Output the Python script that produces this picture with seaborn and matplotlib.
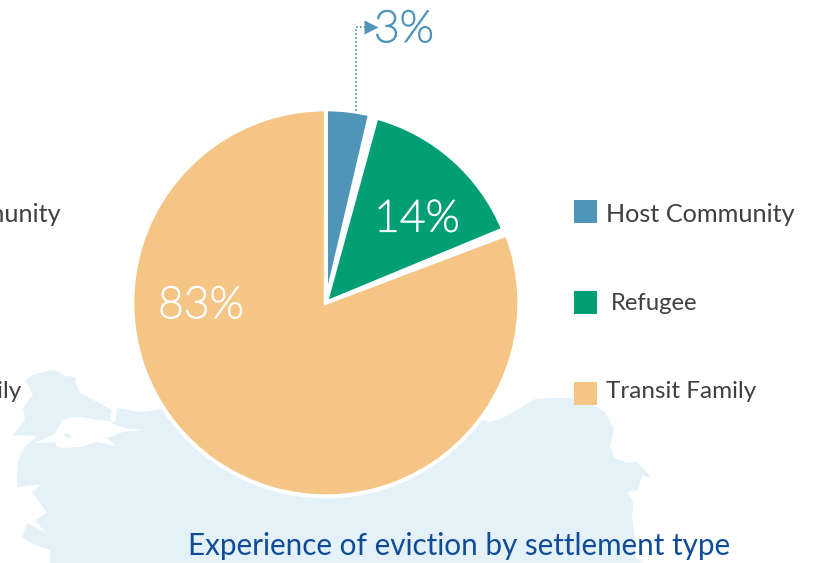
import matplotlib
matplotlib.use("Agg")
import matplotlib.pyplot as plt
import matplotlib.patheffects as pe
from matplotlib import font_manager as fm
from matplotlib.patches import Polygon, Rectangle
import seaborn as sns

categories = ["Host Community", "Refugee", "Transit Family"]
wedge_shares = [0.0367, 0.145, 0.8075]
printed_labels = ["3%", "14%", "83%"]
colors = ["#4E95B8", "#029E76", "#F4C585"]
title = "Experience of eviction by settlement type"

sns.set_theme(style="white")
plt.rcParams["font.family"] = ["Lato", "DejaVu Sans"]
palette = sns.color_palette(colors)

# a light cut of Lato for the big percentages, if it is installed
light = [f.fname for f in fm.fontManager.ttflist
         if f.name == "Lato" and "Light" in f.fname and "Italic" not in f.fname and "Hairline" not in f.fname]
big = fm.FontProperties(fname=light[0], size=32) if light else fm.FontProperties(family="Lato", size=31)

W, H = 814, 563
fig = plt.figure(figsize=(W / 100, H / 100), dpi=100, facecolor="white")
ax = fig.add_axes([0, 0, 1, 1])

def y(p):
    return H - p

# decorative background map
map_outline = [(25,380),(33,375),(50,370),(58,371),(65,376),(76,377),(75,382),(80,393),(97,402),
    (112,410),(110,420),(115,422),(117,408),(140,412),(157,410),(162,409),(300,470),(483,420),
    (490,422),(503,418),(518,409),(535,399),(550,398),(570,398),(593,405),(605,412),(614,428),
    (610,447),(615,458),(627,463),(637,462),(645,470),(651,478),(642,475),(638,490),(627,492),
    (633,502),(632,517),(635,537),(635,557),(643,563),(50,563),(50,550),(35,545),(22,537),
    (27,523),(45,532),(35,520),(47,513),(38,500),(32,492),(42,484),(17,487),(18,460),(25,447),
    (37,436),(13,435),(25,420),(23,408),(33,395)]
sea = [(35,443),(55,434),(62,420),(70,418),(83,417),(97,420),(110,421),(115,425),(125,428),(143,430),
    (123,432),(107,438),(117,446),(97,442),(80,447),(63,448),(57,447),(55,442)]
island = [(63,435),(68,433),(72,436),(68,439)]
ax.add_patch(Polygon([(a, y(b)) for a, b in map_outline], closed=True, fc="#E5F1F8", ec="none", zorder=1))
ax.add_patch(Polygon([(a, y(b)) for a, b in sea], closed=True, fc="white", ec="none", zorder=1.1))
ax.add_patch(Polygon([(a, y(b)) for a, b in island], closed=True, fc="#E5F1F8", ec="none", zorder=1.2))

# pie: the slices are drawn with small white gaps between them, as in the reference
R = 193.5
wedges, _ = ax.pie(wedge_shares, colors=palette, startangle=90, counterclock=False, normalize=False,
                   center=(325.8, y(302.8)), radius=R, frame=True,
                   wedgeprops=dict(edgecolor="white", linewidth=2.9))
for w, rot in zip(wedges, [0, 2.1, 3.9]):
    w.set_theta1(w.theta1 - rot)
    w.set_theta2(w.theta2 - rot)
    w.set_zorder(3)
wedges[1].set_radius(R - 1.5)

ax.set_xlim(0, W)
ax.set_ylim(0, H)
ax.set_aspect("equal")
ax.axis("off")

# leader for the small slice
ax.plot([356, 356, 366], [y(111), y(27), y(27)], ls=(0, (1, 1.4)), lw=1.2, color=colors[0], zorder=4)
ax.plot([370.5], [y(27)], marker=">", ms=10, color=colors[0], mec="none", zorder=4)

# slice labels
for (px, py), lab, col in zip([(404, 30.5), (417, 220), (201, 306.5)], printed_labels, [colors[0], "white", "white"]):
    ax.text(px, y(py), lab, color=col, fontproperties=big, ha="center", va="center", zorder=5,
            path_effects=[pe.withStroke(linewidth=0.9, foreground=col)])

# legend
text_col = "#404040"
legend_rows = [(211, 606), (302, 611), (393, 606)]
text_rows = [214, 303, 391]
text_sizes = [18.2, 17.2, 17.5]
for cat, col, (ry, tx), ty, fs in zip(categories, colors, legend_rows, text_rows, text_sizes):
    ax.add_patch(Rectangle((574, y(ry + 11.5)), 23, 23, fc=col, ec="none", zorder=4))
    ax.text(tx, y(ty), cat, color=text_col, fontsize=fs, ha="left", va="center", zorder=5)

# cropped duplicate legend at left edge
ax.text(61, y(214), categories[0], color=text_col, fontsize=18.2, ha="right", va="center", zorder=5)
ax.text(21, y(391), categories[2], color=text_col, fontsize=17.5, ha="right", va="center", zorder=5)

# title
ax.text(459.5, y(546), title, color="#0F4C97", fontsize=21.3, ha="center", va="center", zorder=5)

fig.savefig("out.png", dpi=100)
